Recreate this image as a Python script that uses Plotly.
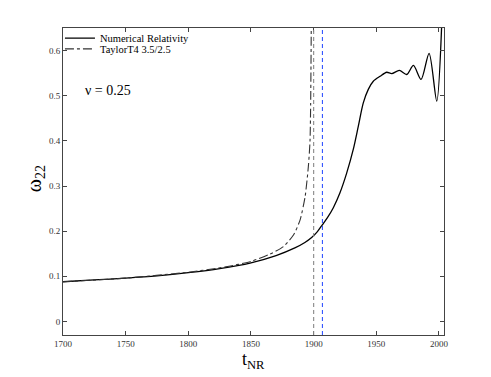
import plotly.graph_objects as go

# ── Data ─────────────────────────────────────────────────────────────────────

NR_T = [1700, 1725, 1750, 1775, 1800, 1825, 1850, 1870, 1885, 1893, 1898.4,
        1903, 1906.9, 1911, 1915.7, 1921, 1926.4, 1931.6, 1935.6, 1939.6,
        1943.6, 1947.6, 1953, 1958.3, 1962.3, 1968.4, 1974.3, 1979.6, 1985.7,
        1992.1, 1998.2, 2002.2]
NR_OMEGA = [0.088, 0.092, 0.096, 0.101, 0.108, 0.117, 0.130, 0.146, 0.163,
            0.175, 0.186, 0.199, 0.214, 0.230, 0.252, 0.285, 0.329, 0.381,
            0.432, 0.484, 0.514, 0.532, 0.543, 0.552, 0.549, 0.556, 0.547,
            0.567, 0.536, 0.594, 0.488, 0.66]

T4_T = [1700, 1750, 1800, 1830, 1850, 1865, 1876, 1884, 1889.2, 1893.2,
        1895.8, 1897.1, 1897.6, 1897.9, 1898.1]
T4_OMEGA = [0.088, 0.096, 0.109, 0.121, 0.133, 0.149, 0.166, 0.192, 0.225,
            0.277, 0.344, 0.40, 0.48, 0.58, 0.66]

VLINE_GRAY = 1900
VLINE_BLUE = 1907

X_TICKS = [1700, 1750, 1800, 1850, 1900, 1950, 2000]
Y_TICKS = [0, 0.1, 0.2, 0.3, 0.4, 0.5, 0.6]
Y_TICK_TEXT = ["0", "0.1", "0.2", "0.3", "0.4", "0.5", "0.6"]

# ── Style ────────────────────────────────────────────────────────────────────

_FONT = "Liberation Serif, Times New Roman, serif"
_AXIS_COLOR = "#444444"
_LEGEND_FONT = dict(family=_FONT, size=10.5, color="black")

fig = go.Figure()

fig.add_trace(go.Scatter(
    x=NR_T, y=NR_OMEGA, mode="lines", name="Numerical Relativity",
    line=dict(color="black", width=1.3, shape="spline", smoothing=0.8),
    legend="legend",
))
fig.add_trace(go.Scatter(
    x=T4_T, y=T4_OMEGA, mode="lines", name="TaylorT4 3.5/2.5",
    line=dict(color="#333333", width=1.1, dash="dashdot",
              shape="spline", smoothing=0.6),
    legend="legend2",
))

fig.add_vline(x=VLINE_GRAY, line=dict(color="#888888", width=1.1, dash="4px,3px"))
fig.add_vline(x=VLINE_BLUE, line=dict(color="#3355ff", width=1.1, dash="4px,3px"))

fig.add_annotation(
    x=1716, y=0.512, xref="x", yref="y", xanchor="left", yanchor="middle",
    text="ν = 0.25", showarrow=False,
    font=dict(family=_FONT, size=14, color="black"),
)

# axis titles as annotations (keeps the margins fixed)
fig.add_annotation(
    x=0.5, y=-0.084, xref="paper", yref="paper", xanchor="center", yanchor="middle",
    text="t<sub>NR</sub>", showarrow=False,
    font=dict(family=_FONT, size=18, color="black"),
)
fig.add_annotation(
    x=-0.073, y=0.508, xref="paper", yref="paper", xanchor="center", yanchor="middle",
    text="ω<sub>22</sub>", showarrow=False, textangle=-90,
    font=dict(family=_FONT, size=20, color="black"),
)

# page body adds an 8px margin, so the figure is 8px smaller than the window
fig.update_layout(
    width=483, height=369,
    margin=dict(l=55, r=47, t=20, b=42),
    plot_bgcolor="white", paper_bgcolor="white",
    font=dict(family=_FONT, size=9, color="#333333"),
    showlegend=True,
    legend=dict(x=-0.008, y=0.967, xanchor="left", yanchor="middle",
                bgcolor="rgba(0,0,0,0)", font=_LEGEND_FONT, itemwidth=30),
    legend2=dict(x=-0.008, y=0.932, xanchor="left", yanchor="middle",
                 bgcolor="rgba(0,0,0,0)", font=_LEGEND_FONT, itemwidth=30),
)

fig.update_xaxes(
    range=[1700, 2004], tickvals=X_TICKS, showgrid=False, zeroline=False,
    showline=True, linecolor=_AXIS_COLOR, linewidth=1, mirror="ticks",
    ticks="inside", ticklen=4, tickcolor=_AXIS_COLOR, automargin=False,
)
fig.update_yaxes(
    range=[-0.03, 0.65], tickvals=Y_TICKS, ticktext=Y_TICK_TEXT, showgrid=False,
    zeroline=False, showline=True, linecolor=_AXIS_COLOR, linewidth=1,
    mirror="ticks", ticks="inside", ticklen=4, tickcolor=_AXIS_COLOR,
    automargin=False,
)

fig.write_html("out.html")
